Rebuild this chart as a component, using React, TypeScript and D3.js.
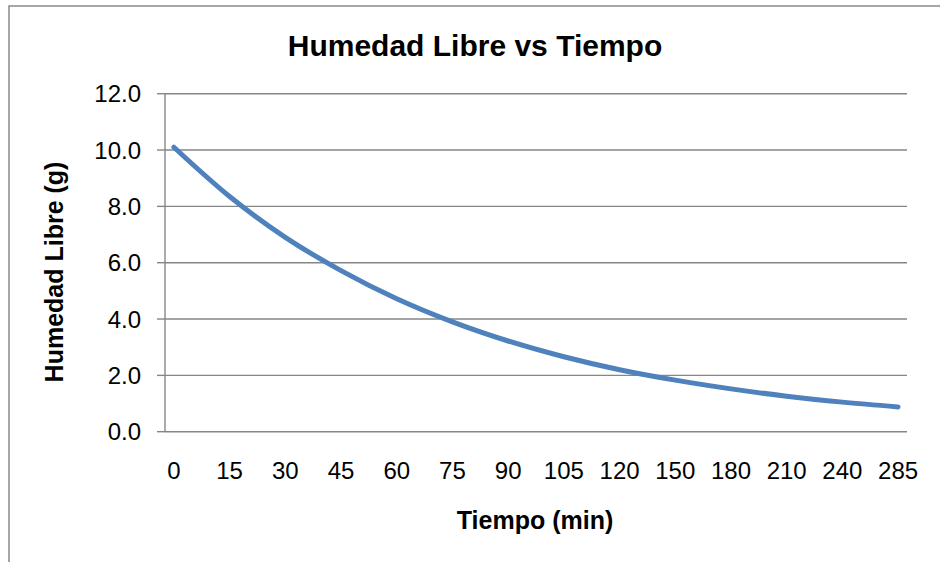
import React from "react";
import * as d3 from "d3";

const categories = ["0", "15", "30", "45", "60", "75", "90", "105", "120", "150", "180", "210", "240", "285"];
const humedad = [10.1, 8.35, 6.9, 5.72, 4.72, 3.9, 3.22, 2.66, 2.2, 1.83, 1.52, 1.26, 1.05, 0.88];
const yTicks = [0, 2, 4, 6, 8, 10, 12];

const W = 940;
const H = 562;
const plot = { left: 165, right: 907, top: 93.7, bottom: 431.7 };
const FONT = "'Liberation Sans', Arial, sans-serif";

export default function App() {
  const x = d3.scalePoint<string>().domain(categories).range([plot.left, plot.right]).padding(0.16);
  const y = d3.scaleLinear().domain([0, 12]).range([plot.bottom, plot.top]);
  const line = d3
    .line<number>()
    .x((_, i) => x(categories[i]) as number)
    .y((d) => y(d))
    .curve(d3.curveMonotoneX);

  return (
    <svg
      width={W}
      height={H}
      style={{ position: "absolute", left: 0, top: 0, background: "#fff" }}
      fontFamily={FONT}
    >
      <rect x={9} y={6} width={W + 20} height={H + 20} fill="#fff" stroke="#898989" strokeWidth={1.5} />
      <text x={475} y={55.5} textAnchor="middle" fontSize={30} fontWeight="bold" fill="#000">
        Humedad Libre vs Tiempo
      </text>
      {yTicks.map((t) => (
        <g key={t}>
          <line x1={plot.left} x2={plot.right} y1={y(t)} y2={y(t)} stroke="#868686" strokeWidth={1.4} />
          <line x1={157} x2={plot.left} y1={y(t)} y2={y(t)} stroke="#868686" strokeWidth={1.4} />
          <text x={141} y={y(t) + 8.5} textAnchor="end" fontSize={24} fill="#000">
            {t.toFixed(1)}
          </text>
        </g>
      ))}
      <line x1={plot.left} x2={plot.left} y1={plot.top} y2={plot.bottom} stroke="#868686" strokeWidth={1.4} />
      {categories.map((c) => (
        <text key={c} x={x(c) as number} y={479} textAnchor="middle" fontSize={24} fill="#000">
          {c}
        </text>
      ))}
      <path d={line(humedad) || ""} fill="none" stroke="#4F81BD" strokeWidth={5} strokeLinecap="round" strokeLinejoin="round" />
      <text x={535} y={528.5} textAnchor="middle" fontSize={25} fontWeight="bold" fill="#000">
        Tiempo (min)
      </text>
      <text
        transform={`translate(63,${272}) rotate(-90)`}
        textAnchor="middle"
        fontSize={25}
        fontWeight="bold"
        fill="#000"
      >
        Humedad Libre (g)
      </text>
    </svg>
  );
}
